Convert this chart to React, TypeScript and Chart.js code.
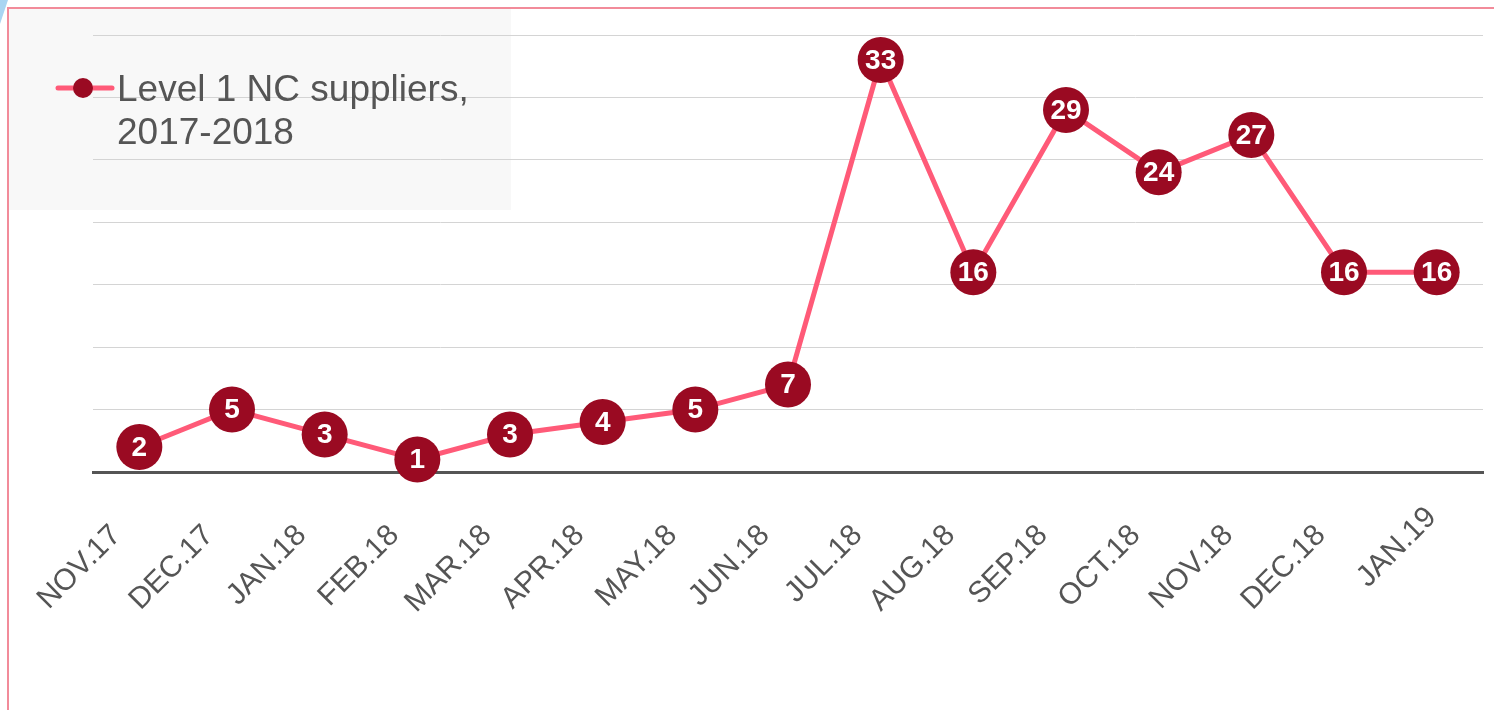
import React, { useEffect, useRef } from "react";
import { Chart, registerables } from "chart.js";

Chart.register(...registerables);

const categories = ["NOV.17", "DEC.17", "JAN.18", "FEB.18", "MAR.18", "APR.18", "MAY.18", "JUN.18", "JUL.18", "AUG.18", "SEP.18", "OCT.18", "NOV.18", "DEC.18", "JAN.19"];
const supplierCounts = [2, 5, 3, 1, 3, 4, 5, 7, 33, 16, 29, 24, 27, 16, 16];
const legendLines = ["Level 1 NC suppliers,", "2017-2018"];
const yMin = 0;
const yMax = 35;
const yStep = 5;

const LINE_COLOR = "#ff5a78";
const POINT_COLOR = "#9a0a22";
const TEXT_COLOR = "#555555";
const FONT = "'Liberation Sans', Arial, sans-serif";

const pointLabelPlugin = {
  id: "pointLabels",
  afterDatasetsDraw(chart: any) {
    const ctx = chart.ctx;
    const meta = chart.getDatasetMeta(0);
    ctx.save();
    ctx.fillStyle = "#ffffff";
    ctx.font = `bold 28px ${FONT}`;
    ctx.textAlign = "center";
    ctx.textBaseline = "middle";
    meta.data.forEach((el: any, i: number) => {
      ctx.fillText(String(supplierCounts[i]), el.x, el.y + 1);
    });
    ctx.restore();
  },
};

// the last axis label sits a little further along its diagonal in the reference
const lastLabelShiftPlugin = {
  id: "lastLabelShift",
  beforeDraw(chart: any) {
    const sx = chart.scales.x;
    if (!sx || typeof sx.getLabelItems !== "function") return;
    const items = sx.getLabelItems(chart.chartArea);
    const last = items && items[items.length - 1];
    const tr = last && last.options && last.options.translation;
    if (tr && !last._shifted) {
      last.options.translation = [tr[0] + 18, tr[1] - 18];
      last._shifted = true;
    }
  },
};

const legendBoxPlugin = {
  id: "legendBox",
  beforeDraw(chart: any) {
    const ctx = chart.ctx;
    ctx.save();
    ctx.fillStyle = "#f8f8f8";
    ctx.fillRect(9, 9, 502, 201);
    ctx.restore();
  },
  afterDraw(chart: any) {
    const ctx = chart.ctx;
    ctx.save();
    ctx.strokeStyle = LINE_COLOR;
    ctx.lineWidth = 5;
    ctx.lineCap = "round";
    ctx.beginPath();
    ctx.moveTo(58, 88);
    ctx.lineTo(112, 88);
    ctx.stroke();
    ctx.fillStyle = POINT_COLOR;
    ctx.beginPath();
    ctx.arc(83, 88, 10, 0, Math.PI * 2);
    ctx.fill();
    ctx.fillStyle = TEXT_COLOR;
    ctx.font = `37px ${FONT}`;
    ctx.textAlign = "left";
    ctx.textBaseline = "alphabetic";
    legendLines.forEach((t, i) => ctx.fillText(t, 117, 101 + i * 43));
    ctx.restore();
  },
};

export default function App() {
  const ref = useRef<HTMLCanvasElement | null>(null);
  useEffect(() => {
    if (!ref.current) return;
    Chart.defaults.font.family = FONT;
    const chart = new Chart(ref.current, {
      type: "line",
      data: {
        labels: categories,
        datasets: [
          {
            label: legendLines.join(" "),
            data: supplierCounts,
            borderColor: LINE_COLOR,
            borderWidth: 5,
            pointRadius: 23,
            pointHoverRadius: 23,
            pointBackgroundColor: POINT_COLOR,
            pointBorderWidth: 0,
            tension: 0,
            clip: false as any,
          },
        ],
      },
      options: {
        animation: false,
        responsive: false,
        maintainAspectRatio: false,
        layout: { autoPadding: false, padding: { left: 93, right: 11, top: 35, bottom: 0 } },
        plugins: { legend: { display: false }, tooltip: { enabled: false } },
        scales: {
          x: {
            offset: true,
            grid: { display: false, drawTicks: false },
            border: { display: true, color: TEXT_COLOR, width: 3 },
            ticks: {
              color: TEXT_COLOR,
              font: { size: 30 },
              minRotation: 45,
              maxRotation: 45,
              padding: 46,
              labelOffset: -23,
              autoSkip: false,
            },
            afterFit: (s: any) => {
              s.height = 238;
              s.paddingLeft = 0;
              s.paddingRight = 0;
            },
          },
          y: {
            min: yMin,
            max: yMax,
            ticks: { display: false, stepSize: yStep },
            grid: { color: "#d4d4d4", lineWidth: 1, drawTicks: false },
            border: { display: false },
            afterFit: (s: any) => {
              s.width = 0;
            },
          },
        },
      },
      plugins: [legendBoxPlugin, lastLabelShiftPlugin, pointLabelPlugin],
    });
    return () => chart.destroy();
  }, []);

  return (
    <div style={{ position: "absolute", left: 0, top: 0, width: 1494, height: 710, background: "#fff", overflow: "hidden" }}>
      <div style={{ position: "absolute", left: 0, top: 0, width: 8, height: 24, background: "#a9d5f2", clipPath: "polygon(0 0, 100% 0, 0 100%)" }} />
      <div style={{ position: "absolute", left: 7, top: 7, width: 1600, height: 800, borderLeft: "2px solid #f28b9a", borderTop: "2px solid #f28b9a" }} />
      <canvas ref={ref} width={1494} height={710} style={{ position: "absolute", left: 0, top: 0, width: 1494, height: 710 }} />
    </div>
  );
}
